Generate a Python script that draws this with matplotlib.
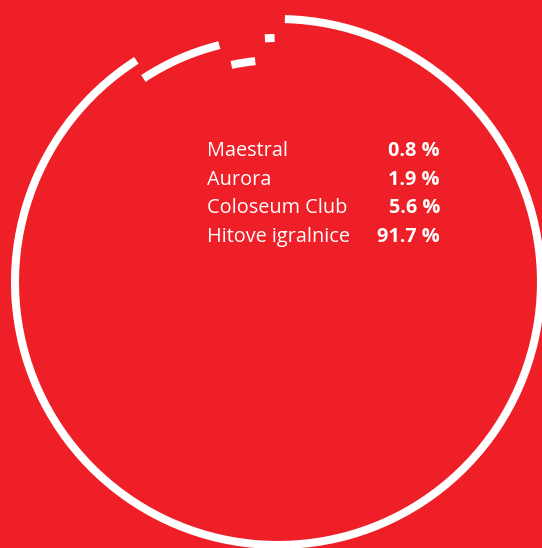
import matplotlib
matplotlib.use("Agg")
import matplotlib.pyplot as plt
from matplotlib.patches import Arc

# data
categories = ["Maestral", "Aurora", "Coloseum Club", "Hitove igralnice"]
shares = [0.8, 1.9, 5.6, 91.7]
value_labels = ["0.8 %", "1.9 %", "5.6 %", "91.7 %"]

BG = "#EE1F27"
W, H = 542, 548
fig = plt.figure(figsize=(W / 100, H / 100), dpi=100, facecolor=BG)
ax = fig.add_axes([0, 0, 1, 1])
ax.set_xlim(0, W)
ax.set_ylim(0, H)
ax.set_aspect("equal")
ax.axis("off")
ax.set_facecolor(BG)

cx, cy = 278, H - 282
radii = {"Maestral": 244, "Aurora": 222, "Coloseum Club": 244, "Hitove igralnice": 263}
lw = 5.8

# small segments laid counter-clockwise from the top
angle = 90.5
gaps = [2.2, 1.2]
trim = 0.3
for i, (cat, v) in enumerate(zip(categories[:-1], shares[:-1])):
    span = v * 3.6
    r = radii[cat]
    ax.add_patch(Arc((cx, cy), 2 * r, 2 * r, theta1=angle + trim, theta2=angle + span - trim,
                     color="white", lw=lw, capstyle="butt"))
    angle += span + (gaps[i] if i < len(gaps) else 0)

# big segment: clockwise from the top
big = shares[-1] * 3.6
start = 88.5
r = radii[categories[-1]]
ax.add_patch(Arc((cx, cy), 2 * r, 2 * r, theta1=start - (big - 4.2), theta2=start,
                 color="white", lw=lw, capstyle="butt"))

# legend text
x_lab, x_val = 207, 440
y0, dy = H - 156, 28.6
for i, (c, vl) in enumerate(zip(categories, value_labels)):
    y = y0 - i * dy
    ax.text(x_lab, y, c, color="white", fontsize=14.3, family="Open Sans",
            ha="left", va="baseline")
    ax.text(x_val, y, vl, color="white", fontsize=14.3, family="Open Sans",
            fontweight="bold", ha="right", va="baseline")

fig.savefig("out.png", dpi=100, facecolor=BG)
